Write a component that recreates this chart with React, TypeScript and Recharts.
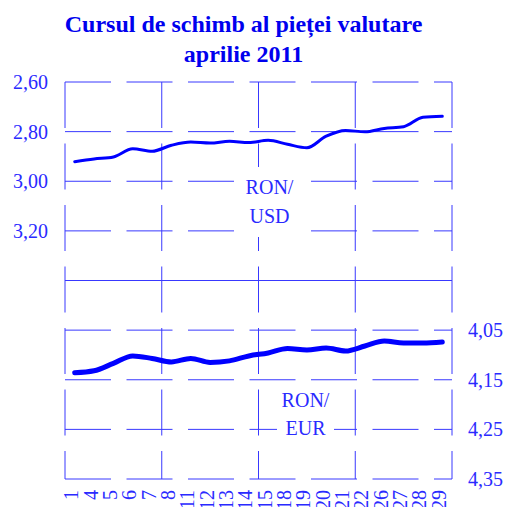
import React from 'react';
import { LineChart, Line, XAxis, YAxis, CartesianGrid, ReferenceLine } from 'recharts';

const dates = ['1', '4', '5', '6', '7', '8', '11', '12', '13', '14', '15', '18', '19', '20', '21', '22', '26', '27', '28', '29'];
const ronUsd = [2.921, 2.91, 2.902, 2.869, 2.879, 2.855, 2.842, 2.846, 2.839, 2.844, 2.835, 2.851, 2.865, 2.818, 2.795, 2.801, 2.787, 2.78, 2.742, 2.738];
const ronEur = [4.136, 4.132, 4.117, 4.102, 4.107, 4.114, 4.107, 4.115, 4.112, 4.102, 4.096, 4.087, 4.09, 4.086, 4.092, 4.082, 4.072, 4.076, 4.076, 4.074];
const usdGridTicks = [2.6, 2.8, 3.0, 3.2, 3.4, 3.6, 3.8, 4.0, 4.2];
const usdLabelTicks = [2.6, 2.8, 3.0, 3.2];
const eurTicks = [4.05, 4.15, 4.25, 4.35];
const weekBoundaries = [0, 5, 10, 15, 20];
const separatorValue = 3.4;

const data = dates.map((d, i) => ({ date: d, usd: ronUsd[i], eur: ronEur[i] }));

const FONT = 'Liberation Serif, Times New Roman, serif';
const TEXT = '#2a2aff';
const GRID = '#3838ff';
const LINE = '#0000ff';

const fmt = (v: number) => v.toFixed(2).replace('.', ',');

const XTick = (props: any) => {
  const { x, y, payload } = props;
  return (
    <text
      x={x}
      y={y}
      dy={3.5}
      transform={`rotate(-90 ${x} ${y})`}
      textAnchor="end"
      fill={TEXT}
      style={{ fontFamily: FONT, fontSize: 20 }}
    >
      {payload.value}
    </text>
  );
};

const YTick = (props: any) => {
  const { x, y, payload, textAnchor, tickFormatter } = props;
  const label = tickFormatter ? tickFormatter(payload.value) : String(payload.value);
  if (!label) return null;
  return (
    <text
      x={x}
      y={y}
      dy={7}
      textAnchor={textAnchor}
      fill={TEXT}
      style={{ fontFamily: FONT, fontSize: 20 }}
    >
      {label}
    </text>
  );
};

export default function App() {
  return (
    <div style={{ position: 'absolute', left: 0, top: 0, width: 507, height: 507, background: '#fff', overflow: 'hidden', fontFamily: FONT }}>
      <div
        style={{
          position: 'absolute',
          left: 0,
          top: 9,
          width: 487,
          textAlign: 'center',
          fontFamily: FONT,
          fontWeight: 'bold',
          fontSize: 24,
          lineHeight: '30px',
          color: '#0000ee',
        }}
      >
        Cursul de schimb al pieței valutare
        <br />
        aprilie 2011
      </div>
      <div style={{ position: 'absolute', left: 0, top: 0 }}>
        <LineChart width={507} height={507} data={data} margin={{ top: 82, right: 0, bottom: 0, left: 0 }}>
          <XAxis
            dataKey="date"
            type="category"
            interval={0}
            padding={{ left: 9.7, right: 9.7 }}
            height={28}
            tickSize={0}
            tickMargin={11}
            tickLine={false}
            axisLine={false}
            tick={<XTick />}
          />
          <YAxis
            yAxisId="left"
            orientation="left"
            width={65}
            domain={[2.6, 4.2]}
            reversed
            ticks={usdGridTicks}
            interval={0}
            tickSize={0}
            tickMargin={17}
            tickLine={false}
            axisLine={false}
            tickFormatter={(v: number) => (usdLabelTicks.includes(v) ? fmt(v) : '')}
            tick={<YTick />}
          />
          <YAxis
            yAxisId="right"
            orientation="right"
            width={55}
            domain={[3.55, 4.35]}
            reversed
            ticks={eurTicks}
            interval={0}
            tickSize={0}
            tickMargin={16}
            tickLine={false}
            axisLine={false}
            tickFormatter={fmt}
            tick={<YTick />}
          />
          <CartesianGrid
            yAxisId="left"
            stroke={GRID}
            strokeDasharray="46 15.5"
            strokeWidth={1}
            verticalCoordinatesGenerator={({ offset }: any) =>
              weekBoundaries.map((b) => offset.left + (offset.width * b) / dates.length)
            }
          />
          <ReferenceLine yAxisId="left" y={separatorValue} stroke={GRID} strokeWidth={1} />
          <Line
            yAxisId="left"
            dataKey="usd"
            type="monotone"
            stroke={LINE}
            strokeWidth={3}
            dot={false}
            strokeLinecap="round"
            isAnimationActive={false}
          />
          <Line
            yAxisId="right"
            dataKey="eur"
            type="monotone"
            stroke={LINE}
            strokeWidth={5}
            dot={false}
            strokeLinecap="round"
            isAnimationActive={false}
          />
        </LineChart>
      </div>
      <div
        style={{
          position: 'absolute',
          left: 241,
          top: 167,
          width: 57,
          height: 70,
          paddingTop: 6,
          boxSizing: 'border-box',
          background: '#fff',
          textAlign: 'center',
          fontFamily: FONT,
          fontSize: 20,
          lineHeight: '29px',
          color: TEXT,
        }}
      >
        RON/
        <br />
        USD
      </div>
      <div
        style={{
          position: 'absolute',
          left: 277,
          top: 384,
          width: 57,
          height: 56,
          paddingTop: 2,
          boxSizing: 'border-box',
          background: '#fff',
          textAlign: 'center',
          fontFamily: FONT,
          fontSize: 20,
          lineHeight: '28px',
          color: TEXT,
        }}
      >
        RON/
        <br />
        EUR
      </div>
    </div>
  );
}
